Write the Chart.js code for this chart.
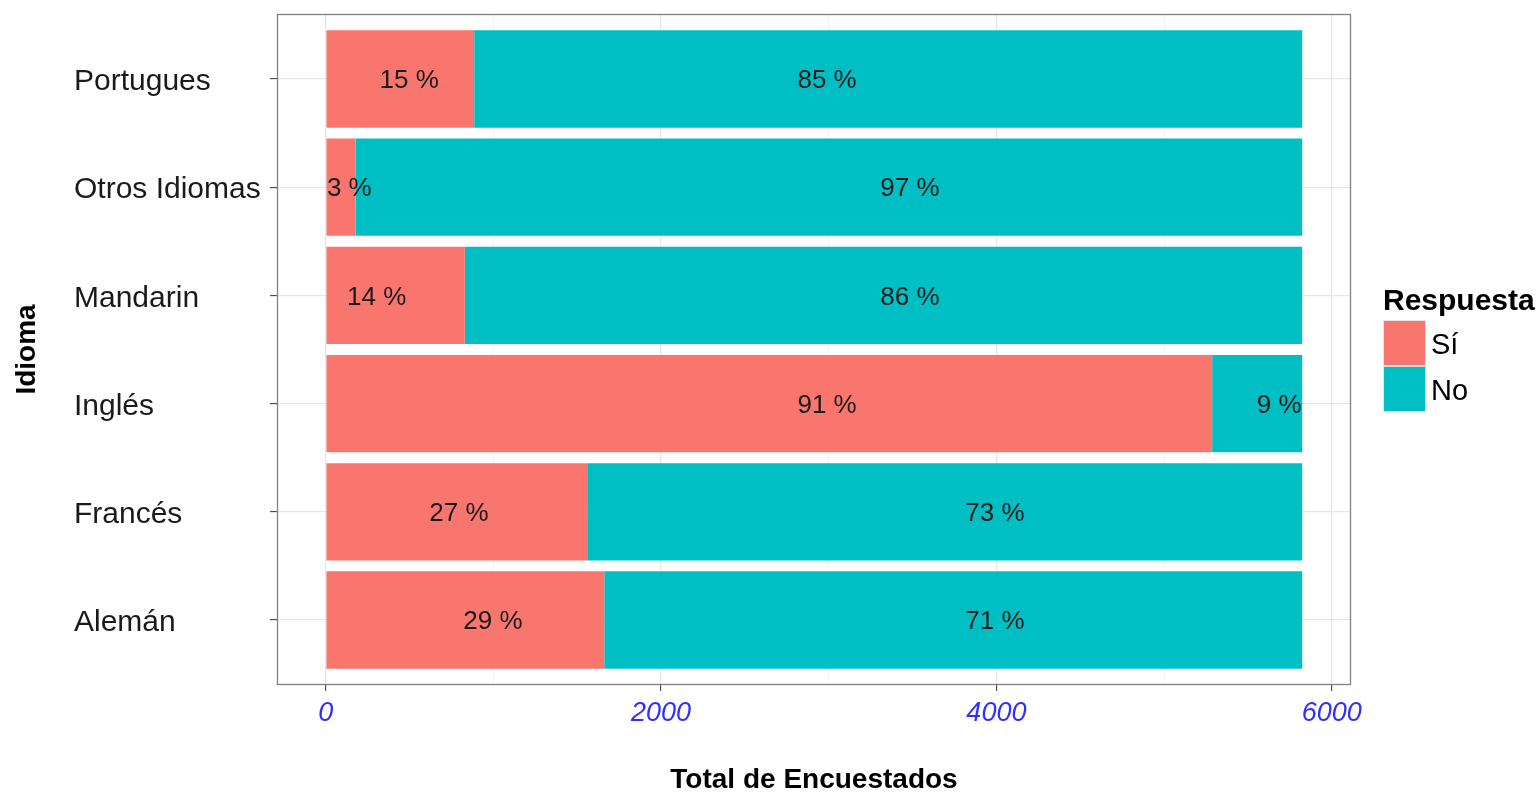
<!DOCTYPE html>
<html>
<head>
<meta charset="utf-8">
<script src="https://cdn.jsdelivr.net/npm/chart.js@4/dist/chart.umd.min.js"></script>
<style>
  html, body { margin: 0; padding: 0; background: #fff; }
  #wrap { width: 1539px; height: 792px; }
</style>
</head>
<body>
<div id="wrap"><canvas id="grafico" width="1539" height="792"></canvas></div>
<script>
// datos (de abajo hacia arriba)
var idiomas = ['Alemán', 'Francés', 'Inglés', 'Mandarin', 'Otros Idiomas', 'Portugues'];
var si = [1661, 1559, 5287, 829, 178, 885];
var no = [4163, 4265, 537, 4995, 5646, 4939];
var etiquetasSi = ['29 %', '27 %', '91 %', '14 %', '3 %', '15 %'];
var etiquetasNo = ['71 %', '73 %', '9 %', '86 %', '97 %', '85 %'];
// posicion de las etiquetas (en unidades del eje x)
var posEtiquetaSi = [997, 794, 2990, 303, 140, 497];
var posEtiquetaNo = [3991, 3991, 5687, 3484, 3484, 2990];
var ticksX = [0, 1000, 2000, 3000, 4000, 5000, 6000];

var colorSi = '#F8766D';
var colorNo = '#00BFC4';
var fuente = '"Liberation Sans", Arial, sans-serif';

var total = Math.max.apply(null, si.map(function (v, i) { return v + no[i]; }));

function puntos(valores) {
    return valores.map(function (v, i) { return { x: v, y: i }; });
}

//panel, titulos, leyenda y etiquetas
var extras = {
    id: 'extras',
    afterDatasetsDraw: function (chart) {
        var ctx = chart.ctx, a = chart.chartArea;
        var sx = chart.scales.x, sy = chart.scales.y;
        ctx.save();
        ctx.fillStyle = '#1a1a1a';
        ctx.font = '26px ' + fuente;
        ctx.textAlign = 'center';
        ctx.textBaseline = 'middle';
        for (var i = 0; i < idiomas.length; i++) {
            var py = sy.getPixelForValue(i) + 2;
            ctx.fillText(etiquetasSi[i], sx.getPixelForValue(posEtiquetaSi[i]), py);
            ctx.fillText(etiquetasNo[i], sx.getPixelForValue(posEtiquetaNo[i]), py);
        }
        //borde del panel
        ctx.strokeStyle = '#808080';
        ctx.lineWidth = 1.3;
        ctx.strokeRect(a.left + 0.5, a.top + 0.5, a.right - a.left - 1, a.bottom - a.top - 1);
        ctx.restore();
    },
    afterDraw: function (chart) {
        var ctx = chart.ctx, a = chart.chartArea;
        ctx.save();
        ctx.fillStyle = '#000';
        //titulo eje x
        ctx.font = 'bold 28px ' + fuente;
        ctx.textAlign = 'center';
        ctx.textBaseline = 'middle';
        ctx.fillText('Total de Encuestados', (a.left + a.right) / 2, 780);
        //titulo eje y
        ctx.save();
        ctx.translate(27, (a.top + a.bottom) / 2);
        ctx.rotate(-Math.PI / 2);
        ctx.fillText('Idioma', 0, 0);
        ctx.restore();
        //leyenda
        ctx.textAlign = 'left';
        ctx.font = 'bold 30px ' + fuente;
        ctx.fillText('Respuesta', 1383, 302);
        var claves = [['Sí', colorSi], ['No', colorNo]];
        ctx.font = '29px ' + fuente;
        for (var k = 0; k < claves.length; k++) {
            var y0 = 320 + k * 46;
            ctx.fillStyle = claves[k][1];
            ctx.fillRect(1383, y0, 43, 46);
            ctx.strokeStyle = '#e3e3e3';
            ctx.lineWidth = 1;
            ctx.strokeRect(1383.5, y0 + 0.5, 42, 45);
            ctx.fillStyle = '#000';
            ctx.fillText(claves[k][0], 1431, y0 + 26);
        }
        ctx.restore();
    }
};

var chart = new Chart(document.getElementById('grafico'), {
    type: 'bar',
    data: {
        datasets: [
            { label: 'Sí', data: puntos(si), backgroundColor: colorSi, barPercentage: 0.9, categoryPercentage: 1 },
            { label: 'No', data: puntos(no), backgroundColor: colorNo, barPercentage: 0.9, categoryPercentage: 1 }
        ]
    },
    options: {
        indexAxis: 'y',
        responsive: false,
        animation: false,
        layout: { padding: { left: 74, right: 188, top: 14, bottom: 0 } },
        plugins: {
            legend: { display: false },
            tooltip: { enabled: false }
        },
        scales: {
            x: {
                type: 'linear',
                stacked: true,
                min: -0.05 * total,
                max: 1.05 * total,
                afterBuildTicks: function (s) {
                    s.ticks = ticksX.map(function (v) { return { value: v }; });
                },
                afterFit: function (s) {
                    s.height = 107;
                    s.paddingLeft = 0;
                    s.paddingRight = 0;
                },
                border: { display: false },
                grid: {
                    color: function (c) { return c.tick && c.tick.value % 2000 === 0 ? '#e6e6e6' : '#f2f2f2'; },
                    lineWidth: function (c) { return c.tick && c.tick.value % 2000 === 0 ? 1.3 : 0.9; },
                    tickColor: function (c) { return c.tick && c.tick.value % 2000 === 0 ? '#333' : 'rgba(0,0,0,0)'; },
                    tickLength: 6,
                    tickWidth: 1
                },
                ticks: {
                    autoSkip: false,
                    maxRotation: 0,
                    padding: 6,
                    color: '#2f2fff',
                    font: { family: fuente, size: 27, style: 'italic' },
                    callback: function (v) { return v % 2000 === 0 ? String(v) : ''; }
                }
            },
            y: {
                type: 'linear',
                stacked: true,
                offset: false,
                min: -0.6,
                max: idiomas.length - 0.4,
                afterBuildTicks: function (s) {
                    s.ticks = idiomas.map(function (n, i) { return { value: i }; });
                },
                afterFit: function (s) {
                    s.width = 203;
                    s.paddingTop = 0;
                    s.paddingBottom = 0;
                },
                border: { display: false },
                grid: {
                    offset: false,
                    color: '#e6e6e6',
                    lineWidth: 1.3,
                    tickColor: '#333',
                    tickLength: 7,
                    tickWidth: 1
                },
                ticks: {
                    autoSkip: false,
                    crossAlign: 'far',
                    labelOffset: 3,
                    color: '#1a1a1a',
                    font: { family: fuente, size: 30 },
                    callback: function (v) { return idiomas[v]; }
                }
            }
        }
    },
    plugins: [extras]
});
</script>
</body>
</html>
